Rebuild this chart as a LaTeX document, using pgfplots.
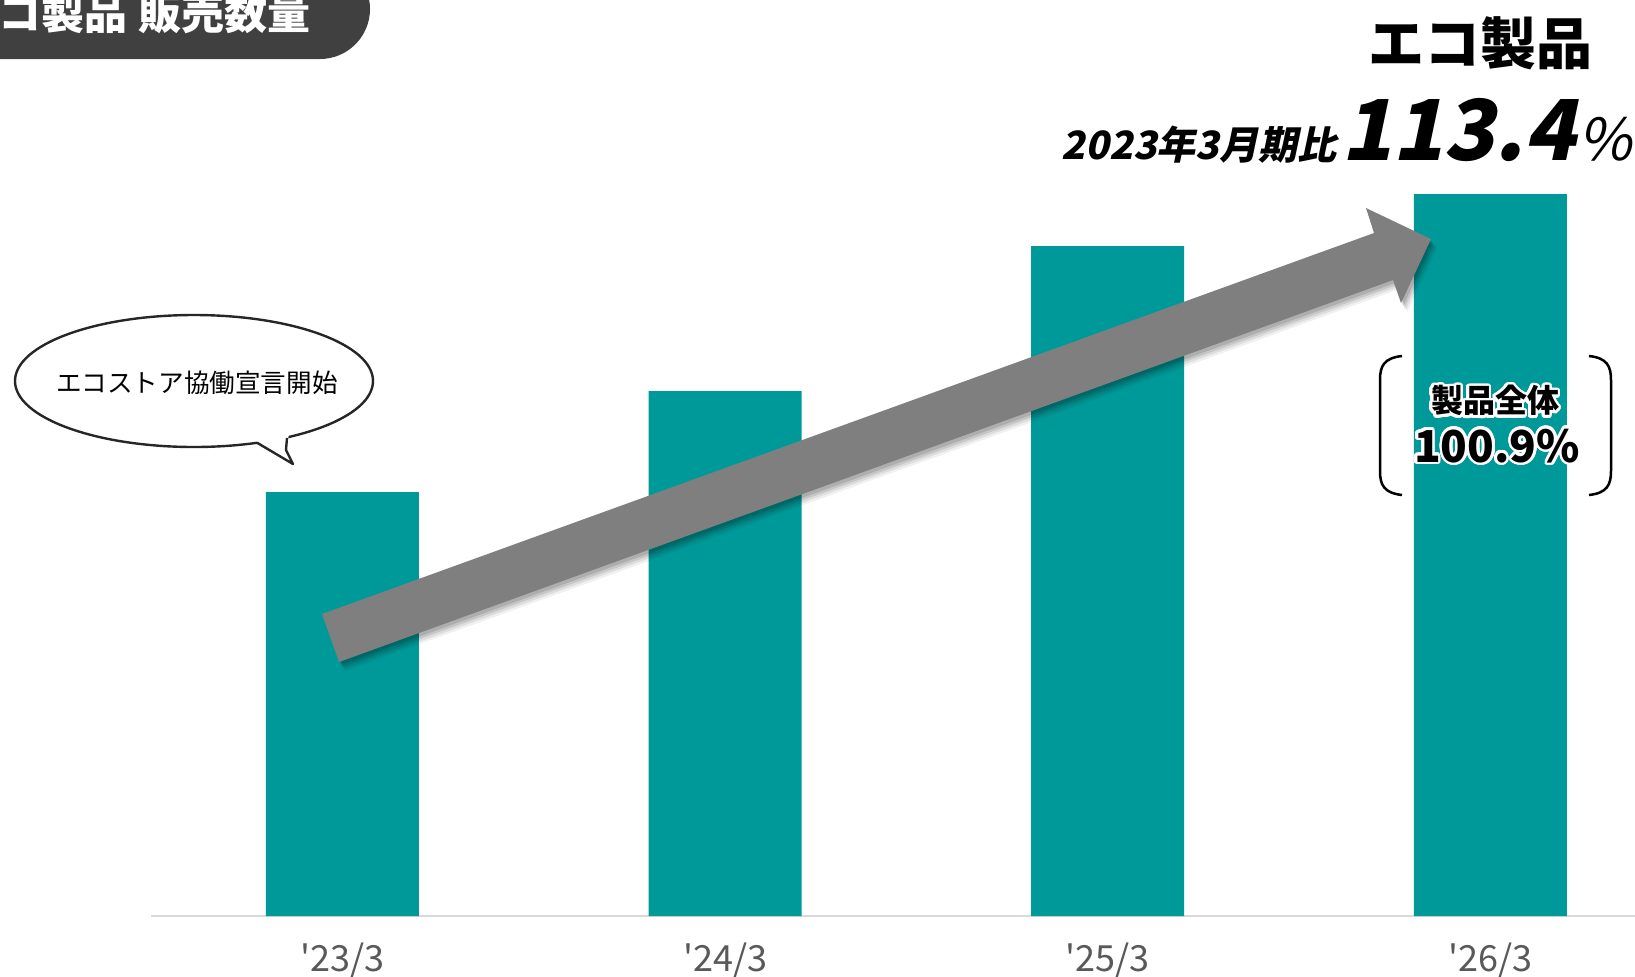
\documentclass[border=0pt]{standalone}
\usepackage{fontspec}
\setmainfont{Noto Sans CJK JP}
\newfontfamily\jpit{Noto Sans CJK JP}[FakeSlant=0.21]
\usepackage{pgfplots}
\pgfplotsset{compat=1.18}
\usepackage{contour}
\contourlength{1.3pt}
\contournumber{32}
\definecolor{barteal}{HTML}{009999}
\definecolor{arrowgray}{HTML}{7F7F7F}
\definecolor{titlebg}{HTML}{404040}
\definecolor{ticktext}{HTML}{595959}
\definecolor{axisline}{HTML}{D9D9D9}

\begin{document}
\begin{tikzpicture}
% 1 px of the reference = 0.5pt; in the scope below y runs downwards
\useasboundingbox (0,-488pt) rectangle (817.5pt,0pt);

\begin{axis}[
    at={(75.5pt,-458pt)}, anchor=south west,
    scale only axis, width=742pt, height=458pt,
    xmin=-0.5004, xmax=3.378, ymin=0, ymax=916,
    axis x line*=bottom, axis y line=none,
    x axis line style={draw=axisline, line width=1pt, -},
    xtick={0,1,2,3},
    xticklabels={{\textquotesingle23/3},{\textquotesingle24/3},{\textquotesingle25/3},{\textquotesingle26/3}},
    major tick length=0pt,
    xticklabel style={anchor=center, yshift=-22pt,
        font=\fontsize{18}{18}\selectfont, text=ticktext},
]
\addplot[ybar, bar width=76.5pt, fill=barteal, draw=none] coordinates {
    (0,424) (1,525) (2,670) (3,722)
};
\end{axis}

\begin{scope}[x=0.5pt,y=-0.5pt]
% title tab
\fill[titlebg, rounded corners=25pt] (-120,-41) rectangle (370,59);
\node[anchor=east, inner sep=0pt, text=white, font=\fontsize{21.5}{21.5}\selectfont\bfseries]
    at (311,13) {エコ製品\hspace{0.25em}販売数量};

% arrow with soft shadow
\foreach \d/\o in {9/0.06,7/0.08,5/0.10,3/0.12}{
  \fill[black, opacity=\o, shift={(\d*0.7,\d)}]
    (322,614) -- (1374,233) -- (1366,208) -- (1431,239) -- (1401,303)
    -- (1393,280) -- (339,662) -- cycle;
}
\fill[arrowgray] (322,614) -- (1374,233) -- (1366,208) -- (1431,239)
    -- (1401,303) -- (1393,280) -- (339,662) -- cycle;

% speech bubble
\filldraw[fill=white, draw=black!85, line width=1.2pt] (194,381) ellipse [x radius=179, y radius=66];
\fill[white] (255,440) -- (293,464) -- (286,450) -- (289,434) -- cycle;
\draw[black!85, line width=1.2pt, line join=round] (257.5,443) -- (293,464) -- (286,450) -- (287,438);
\node[font=\fontsize{12.8}{12.8}\selectfont] at (197,383) {エコストア協働宣言開始};

% headline at the top right
\node[font=\fontsize{28}{28}\selectfont\bfseries] at (1480,43) {エコ製品};
\node[anchor=base east, inner sep=0pt, font=\jpit\fontsize{19.5}{19.5}\selectfont\bfseries] at (1337,159) {2023年3月期比};
\node[anchor=base east, inner sep=0pt, font=\jpit\fontsize{42}{42}\selectfont\bfseries] at (1576,160) {113.4};
\node[anchor=base west, inner sep=0pt, font=\jpit\fontsize{29}{29}\selectfont] at (1578,160) {\%};

% bracket note on the last bar
\draw[black, line width=1.25pt] (1402,356) .. controls (1384,358) and (1380,366) .. (1380,380)
    -- (1380,471) .. controls (1380,485) and (1384,493) .. (1402,495);
\draw[black, line width=1.25pt] (1589,356) .. controls (1607,358) and (1611,366) .. (1611,380)
    -- (1611,471) .. controls (1611,485) and (1607,493) .. (1589,495);
\node[font=\fontsize{16}{16}\selectfont\bfseries] at (1495,402) {\contour{white}{製品全体}};
\node[font=\fontsize{22}{22}\selectfont\bfseries] at (1497,447) {\contour{white}{100.9\%}};
\end{scope}
\end{tikzpicture}
\end{document}
